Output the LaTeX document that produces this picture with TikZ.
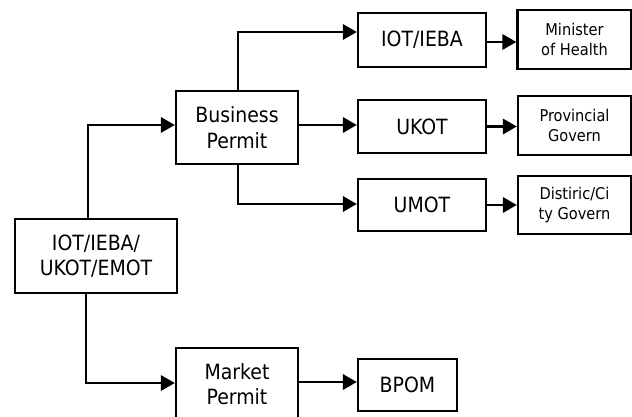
\documentclass[tikz,border=0pt]{standalone}
\usepackage{fontspec}
\setmainfont{DejaVu Sans Condensed}
\usetikzlibrary{arrows.meta}
\tikzset{
  box/.style={draw, line width=2.1pt, align=center, inner sep=0pt, fill=white},
  bigtext/.style={font=\fontsize{21}{25.5}\selectfont},
  smalltext/.style={font=\fontsize{16.2}{19.5}\selectfont},
  conn/.style={line width=2.9pt, -{Triangle[length=14pt,width=15pt]}}
}
\begin{document}
\begin{tikzpicture}[x=1pt,y=-1pt]
\useasboundingbox (0,0) rectangle (632,417);
\begin{scope}
\clip (0,0) rectangle (632,417);
% source
\node[box,bigtext,minimum width=162pt,minimum height=74pt] (main) at (96,256) {IOT/IEBA/\\UKOT/EMOT};
% permits
\node[box,bigtext,minimum width=122pt,minimum height=73pt] (bp) at (237,127.5) {Business\\Permit};
\node[box,bigtext,minimum width=122pt,minimum height=72pt,text depth=0pt] (mp) at (237,384) {Market\\Permit};
% registration types
\node[box,bigtext,minimum width=128pt,minimum height=54pt] (iot) at (422,40) {IOT/IEBA};
\node[box,bigtext,minimum width=128pt,minimum height=53pt] (ukot) at (422,126.5) {UKOT};
\node[box,bigtext,minimum width=128pt,minimum height=52pt] (umot) at (422,205) {UMOT};
\node[box,bigtext,minimum width=99pt,minimum height=52pt] (bpom) at (407.5,385) {BPOM};
% authorities
\node[box,smalltext,minimum width=114pt,minimum height=59pt] (moh) at (574.5,39.5) {Minister\\of Health};
\node[box,smalltext,minimum width=113pt,minimum height=59pt] (prov) at (574.5,125.5) {Provincial\\Govern};
\node[box,smalltext,minimum width=113pt,minimum height=58pt] (dist) at (574.5,205) {Distiric/Ci\\ty Govern};
\end{scope}
% connectors from the source box
\draw[conn] ([xshift=-8pt]main.north) |- ([yshift=2.5pt]bp.west);
\draw[conn] ([xshift=-10pt]main.south) |- ([yshift=1pt]mp.west);
% business permit branches
\draw[conn] ([xshift=1pt]bp.north) |- ([yshift=8pt]iot.west);
\draw[conn] ([yshift=2.5pt]bp.east) -- ([yshift=2.5pt]bp.east -| ukot.west);
\draw[conn] ([xshift=1pt]bp.south) |- ([yshift=1pt]umot.west);
% market permit branch
\draw[conn] ([yshift=2pt]mp.east) -- ([yshift=2pt]mp.east -| bpom.west);
% to authorities
\draw[conn] ([yshift=-2pt]iot.east) -- ([yshift=-2pt]iot.east -| moh.west);
\draw[conn] (ukot.east) -- (ukot.east -| prov.west);
\draw[conn] (umot.east) -- (umot.east -| dist.west);
\end{tikzpicture}
\end{document}
